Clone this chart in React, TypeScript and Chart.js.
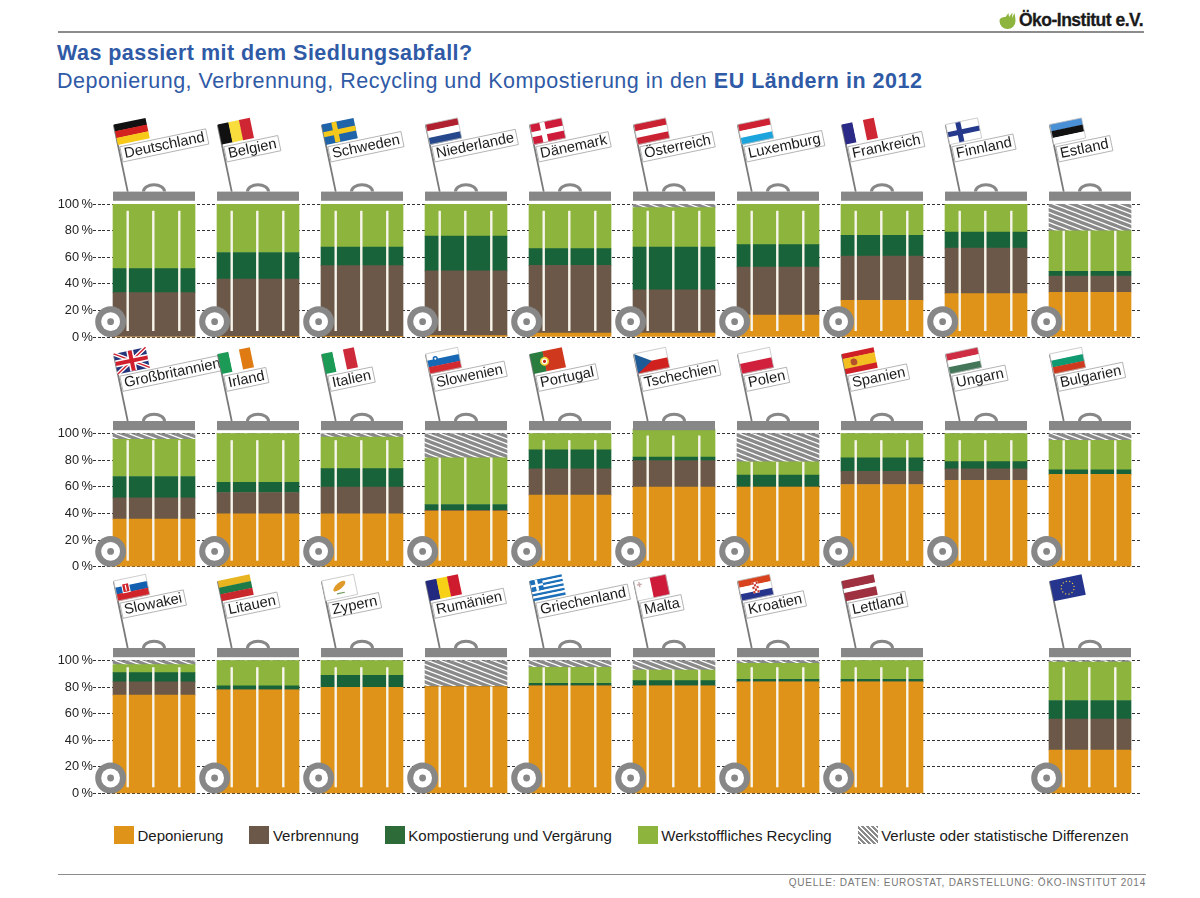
import React, { useEffect, useRef } from "react";
import { Chart, registerables } from "chart.js";

Chart.register(...registerables);

const FONT = '"Liberation Sans", Arial, sans-serif';

const labelsRow1 = ["Deutschland", "Belgien", "Schweden", "Niederlande", "Dänemark", "Österreich", "Luxemburg", "Frankreich", "Finnland", "Estland"];
const deponieRow1 = [0, 0.5, 0.5, 1, 3, 3, 16.6, 27.6, 32.7, 33.7];
const verbrennungRow1 = [33.5, 43.2, 53.3, 48.8, 51, 32.5, 36, 33.4, 34.3, 12.3];
const kompostRow1 = [18, 20, 14, 26.2, 12.6, 32.3, 17, 15.6, 12, 3.5];
const recyclingRow1 = [48.5, 36.3, 32.2, 24, 33.4, 29.7, 30.4, 23.4, 21, 30.5];
const verlusteRow1 = [0, 0, 0, 0, 0, 2.5, 0, 0, 0, 20];

const labelsRow2 = ["Großbritannien", "Irland", "Italien", "Slowenien", "Portugal", "Tschechien", "Polen", "Spanien", "Ungarn", "Bulgarien"];
const deponieRow2 = [35.8, 39.8, 39.8, 41.8, 53.8, 59.8, 59.8, 61.8, 65, 69.5];
const verbrennungRow2 = [16, 16, 20, 0.5, 19.7, 20, 0, 10, 8.5, 0];
const kompostRow2 = [16, 7.7, 14, 4.5, 14.3, 2.7, 9, 10, 5.5, 3.3];
const recyclingRow2 = [28, 36.5, 23.7, 35, 12.2, 21, 10, 18.2, 21, 22.2];
const verlusteRow2 = [4.2, 0, 2.5, 18.2, 0, 0, 21.2, 0, 0, 5];

const labelsRow3 = ["Slowakei", "Litauen", "Zypern", "Rumänien", "Griechenland", "Malta", "Kroatien", "Lettland", "", ""];
const deponieRow3 = [74, 78, 80, 80.5, 81, 81, 84, 84, null, 32.6];
const verbrennungRow3 = [10, 0, 0, 0, 0, 0, 0, 0, null, 23.4];
const kompostRow3 = [7, 3, 9, 0, 2, 4, 2, 2, null, 14];
const recyclingRow3 = [6, 19, 11, 0, 12, 8, 12, 14, null, 29];
const verlusteRow3 = [3, 0, 0, 19.5, 5, 7, 2, 0, null, 1];
const flagsRow3 = ["Slowakei", "Litauen", "Zypern", "Rumänien", "Griechenland", "Malta", "Kroatien", "Lettland", "", "EU"];

const seriesNames = ["Deponierung", "Verbrennung", "Kompostierung und Vergärung", "Werkstoffliches Recycling", "Verluste oder statistische Differenzen"];
const seriesColors = ["#DF9318", "#6B5849", "#18633A", "#8DB43D"];
const legendColors = ["#DF9318", "#6B5849", "#2D6B38", "#8DB43D"];
const yTicks = [0, 20, 40, 60, 80, 100];

const GREY = "#878787";
const BLUE = "#2F5AA6";

type Stripe = { dir: "h" | "v"; colors: string[]; weights?: number[] };
const stripeFlags: Record<string, Stripe> = {
  Deutschland: { dir: "h", colors: ["#111111", "#D3211F", "#F7C919"] },
  Belgien: { dir: "v", colors: ["#111111", "#F8DD3C", "#CE2632"] },
  Schweden: { dir: "h", colors: ["#1F64A8"] },
  Niederlande: { dir: "h", colors: ["#B0202E", "#FFFFFF", "#25488C"] },
  Dänemark: { dir: "h", colors: ["#CE1B3A"] },
  Österreich: { dir: "h", colors: ["#CB2233", "#FFFFFF", "#CB2233"] },
  Luxemburg: { dir: "h", colors: ["#CE2233", "#FFFFFF", "#1CA5DD"] },
  Frankreich: { dir: "v", colors: ["#2B2A86", "#FFFFFF", "#CE2632"] },
  Finnland: { dir: "h", colors: ["#FFFFFF"] },
  Estland: { dir: "h", colors: ["#4A90D6", "#111111", "#FFFFFF"] },
  Großbritannien: { dir: "h", colors: ["#24357C"] },
  Irland: { dir: "v", colors: ["#1C9B57", "#FFFFFF", "#E07B14"] },
  Italien: { dir: "v", colors: ["#1C9B57", "#FFFFFF", "#CE2B3A"] },
  Slowenien: { dir: "h", colors: ["#FFFFFF", "#1668B4", "#D22A2E"] },
  Portugal: { dir: "v", colors: ["#2A7D3F", "#D0381E"], weights: [2, 3] },
  Tschechien: { dir: "h", colors: ["#FFFFFF", "#D0211F"] },
  Polen: { dir: "h", colors: ["#FFFFFF", "#D0203C"] },
  Spanien: { dir: "h", colors: ["#CE2026", "#F3BE22", "#CE2026"], weights: [1, 2, 1] },
  Ungarn: { dir: "h", colors: ["#CE2D43", "#FFFFFF", "#44775A"] },
  Bulgarien: { dir: "h", colors: ["#FFFFFF", "#0F9A72", "#CE3A1E"] },
  Slowakei: { dir: "h", colors: ["#FFFFFF", "#1460B0", "#D0242A"] },
  Litauen: { dir: "h", colors: ["#E8B420", "#1E7B47", "#C9282D"] },
  Zypern: { dir: "h", colors: ["#FFFFFF"] },
  Rumänien: { dir: "v", colors: ["#23297F", "#F7D116", "#CE1B2E"] },
  Griechenland: { dir: "h", colors: ["#1C6FB8", "#FFFFFF", "#1C6FB8", "#FFFFFF", "#1C6FB8", "#FFFFFF", "#1C6FB8", "#FFFFFF", "#1C6FB8"] },
  Malta: { dir: "v", colors: ["#FFFFFF", "#CE1B3A"] },
  Kroatien: { dir: "h", colors: ["#D8431E", "#FFFFFF", "#27348B"] },
  Lettland: { dir: "h", colors: ["#9E3040", "#FFFFFF", "#9E3040"], weights: [2, 1, 2] },
  EU: { dir: "h", colors: ["#25348C"] },
};

function drawFlag(ctx: CanvasRenderingContext2D, key: string, w: number, h: number) {
  const s = stripeFlags[key];
  if (!s) return;
  const ws = s.weights ?? s.colors.map(() => 1);
  const total = ws.reduce((a, b) => a + b, 0);
  let pos = 0;
  s.colors.forEach((c, i) => {
    ctx.fillStyle = c;
    const len = ((s.dir === "h" ? h : w) * ws[i]) / total;
    if (s.dir === "h") ctx.fillRect(0, pos, w, len + 0.3);
    else ctx.fillRect(pos, 0, len + 0.3, h);
    pos += len;
  });
  const cross = (bar: string) => {
    ctx.fillStyle = bar;
    ctx.fillRect(w * 0.3, 0, h * 0.25, h);
    ctx.fillRect(0, h * 0.38, w, h * 0.25);
  };
  if (key === "Schweden") cross("#F5C91C");
  if (key === "Dänemark") cross("#FFFFFF");
  if (key === "Finnland") cross("#25398C");
  if (key === "Großbritannien") {
    ctx.strokeStyle = "#FFFFFF";
    ctx.lineWidth = 4;
    ctx.beginPath();
    ctx.moveTo(0, 0); ctx.lineTo(w, h); ctx.moveTo(w, 0); ctx.lineTo(0, h);
    ctx.stroke();
    ctx.strokeStyle = "#D0202E";
    ctx.lineWidth = 1.4;
    ctx.stroke();
    ctx.fillStyle = "#FFFFFF";
    ctx.fillRect(w / 2 - 3.5, 0, 7, h);
    ctx.fillRect(0, h / 2 - 3.5, w, 7);
    ctx.fillStyle = "#D0202E";
    ctx.fillRect(w / 2 - 2, 0, 4, h);
    ctx.fillRect(0, h / 2 - 2, w, 4);
  }
  if (key === "Tschechien") {
    ctx.fillStyle = "#1E5A96";
    ctx.beginPath();
    ctx.moveTo(0, 0); ctx.lineTo(w * 0.5, h / 2); ctx.lineTo(0, h);
    ctx.closePath();
    ctx.fill();
  }
  const dot = (x: number, y: number, r: number, c: string) => {
    ctx.fillStyle = c;
    ctx.beginPath();
    ctx.arc(x, y, r, 0, Math.PI * 2);
    ctx.fill();
  };
  if (key === "Portugal") { dot(w * 0.4, h / 2, 4.5, "#F2D33A"); dot(w * 0.4, h / 2, 2.8, "#FFFFFF"); dot(w * 0.4, h / 2, 1.6, "#C42B20"); }
  if (key === "Spanien") { dot(w * 0.32, h / 2, 3.4, "#B5512A"); }
  if (key === "Slowenien") { dot(w * 0.26, h * 0.32, 2.6, "#1668B4"); dot(w * 0.26, h * 0.32, 1.1, "#FFFFFF"); }
  if (key === "Slowakei") {
    ctx.fillStyle = "#FFFFFF";
    ctx.fillRect(w * 0.2, h * 0.2, 8, 10);
    ctx.fillStyle = "#D0242A";
    ctx.fillRect(w * 0.2 + 1, h * 0.2 + 1, 6, 8);
    ctx.fillStyle = "#FFFFFF";
    ctx.fillRect(w * 0.2 + 3.4, h * 0.2 + 2, 1.2, 6);
  }
  if (key === "Kroatien") {
    ctx.fillStyle = "#FFFFFF";
    ctx.fillRect(w * 0.4, h * 0.22, 6.5, 11);
    ctx.fillStyle = "#C8352A";
    for (let r = 0; r < 5; r++) for (let c = 0; c < 3; c++) if ((r + c) % 2 === 0) ctx.fillRect(w * 0.4 + c * 2.1, h * 0.22 + r * 2.2, 2.1, 2.2);
  }
  if (key === "Griechenland") {
    ctx.fillStyle = "#1C6FB8";
    ctx.fillRect(0, 0, w * 0.38, h * 5 / 9);
    ctx.fillStyle = "#FFFFFF";
    ctx.fillRect(w * 0.15, 0, w * 0.08, h * 5 / 9);
    ctx.fillRect(0, h * 2 / 9, w * 0.38, h / 9);
  }
  if (key === "Malta") {
    ctx.fillStyle = "#C8A8A8";
    ctx.fillRect(w * 0.07, h * 0.2, 5, 1.4);
    ctx.fillRect(w * 0.07 + 1.8, h * 0.2 - 1.8, 1.4, 5);
  }
  if (key === "Zypern") {
    ctx.fillStyle = "#DF9A2A";
    ctx.beginPath();
    ctx.ellipse(w * 0.5, h * 0.42, 7.5, 3, -0.5, 0, Math.PI * 2);
    ctx.fill();
    ctx.fillStyle = "#6F9A5A";
    ctx.fillRect(w * 0.38, h * 0.74, 8, 1.2);
  }
  if (key === "EU") {
    ctx.fillStyle = "#F2D33A";
    for (let i = 0; i < 12; i++) {
      const a = (i / 12) * Math.PI * 2;
      ctx.beginPath();
      ctx.arc(w / 2 + Math.cos(a) * 6.5, h / 2 + Math.sin(a) * 6.5, 0.65, 0, Math.PI * 2);
      ctx.fill();
    }
  }
  if (["Niederlande", "Österreich", "Finnland", "Estland", "Slowenien", "Tschechien", "Polen", "Ungarn", "Bulgarien", "Slowakei", "Zypern", "Malta", "Kroatien", "Luxemburg", "Dänemark"].includes(key)) {
    ctx.strokeStyle = "#BDBDBD";
    ctx.lineWidth = 0.7;
    ctx.strokeRect(0, 0, w, h);
  }
}

function makeHatch(): CanvasPattern | string {
  const tile = document.createElement("canvas");
  tile.width = 13;
  tile.height = 5;
  const t = tile.getContext("2d");
  if (!t) return GREY;
  t.fillStyle = "#8A8A8A";
  t.fillRect(0, 0, 13, 5);
  t.strokeStyle = "#FFFFFF";
  t.lineWidth = 1.2;
  for (const dy of [-5, 0, 5]) {
    t.beginPath();
    t.moveTo(-13, dy - 5);
    t.lineTo(26, dy + 10);
    t.stroke();
  }
  return t.createPattern(tile, "repeat") ?? GREY;
}

const binPlugin = {
  id: "binDecor",
  afterDatasetsDraw(chart: any, _args: any, opts: any) {
    const { ctx, scales } = chart;
    const xScale = scales.x;
    const yScale = scales.y;
    const y100 = yScale.getPixelForValue(100);
    const y0 = yScale.getPixelForValue(0);
    const barW = 82;
    const names: string[] = opts.labels;
    const flags: string[] = opts.flags;
    const values: (number | null)[][] = opts.series;
    names.forEach((name, i) => {
      if (!flags[i]) return;
      const cx = xScale.getPixelForValue(i);
      const left = cx - barW / 2;
      const lidTop = y100 - 12.7;
      const lidH = 9.2;
      const stackTop = values.reduce((a, s) => a + (s[i] ?? 0), 0);
      const hatchBottom = yScale.getPixelForValue(stackTop - (values[4][i] ?? 0));
      const hasHatch = (values[4][i] ?? 0) > 0;
      const startY = Math.max(yScale.getPixelForValue(stackTop) + 6.5, hasHatch ? hatchBottom : -1);
      ctx.save();
      ctx.fillStyle = "#F8F6EC";
      [14.7, 40.3, 66.3].forEach((dx) => ctx.fillRect(left + dx - 1.2, startY, 2.4, y0 - 6 - startY));
      ctx.fillStyle = GREY;
      ctx.fillRect(left, lidTop, barW, lidH);
      ctx.strokeStyle = GREY;
      ctx.lineWidth = 3;
      ctx.beginPath();
      ctx.ellipse(cx, lidTop, 10.5, 6.8, 0, Math.PI, 2 * Math.PI);
      ctx.stroke();
      const wx = left - 2.4;
      const wy = y0 - 15.3;
      ctx.fillStyle = GREY;
      ctx.beginPath();
      ctx.arc(wx, wy, 15.4, 0, Math.PI * 2);
      ctx.fill();
      ctx.fillStyle = "#FFFFFF";
      ctx.beginPath();
      ctx.arc(wx, wy, 9.4, 0, Math.PI * 2);
      ctx.fill();
      ctx.fillStyle = GREY;
      ctx.beginPath();
      ctx.arc(wx, wy, 3.4, 0, Math.PI * 2);
      ctx.fill();
      ctx.restore();
    });
    names.forEach((name, i) => {
      if (!flags[i]) return;
      const cx = xScale.getPixelForValue(i);
      const left = cx - barW / 2;
      ctx.save();
      ctx.translate(left + 14.7, y100 - 12.7);
      ctx.rotate((-11.8 * Math.PI) / 180);
      ctx.strokeStyle = "#7A7A7A";
      ctx.lineWidth = 1.8;
      ctx.beginPath();
      ctx.moveTo(0, 0);
      ctx.lineTo(0, -68);
      ctx.stroke();
      ctx.save();
      ctx.translate(0, -68.5);
      drawFlag(ctx, flags[i], 32.5, 20.5);
      ctx.restore();
      if (name) {
        ctx.font = `14.7px ${FONT}`;
        const tw = ctx.measureText(name).width;
        ctx.fillStyle = "#FFFFFF";
        ctx.strokeStyle = "#A8A8A8";
        ctx.lineWidth = 0.8;
        ctx.fillRect(1.5, -45.5, tw + 6, 15.5);
        ctx.strokeRect(1.5, -45.5, tw + 6, 15.5);
        ctx.fillStyle = "#1A1A1A";
        ctx.textBaseline = "middle";
        ctx.textAlign = "left";
        ctx.fillText(name, 4.5, -37.5);
      }
      ctx.restore();
    });
  },
};

function BinRow({ labels, flags, series, top, height, y100, y0 }: {
  labels: string[]; flags: string[]; series: (number | null)[][]; top: number; height: number; y100: number; y0: number;
}) {
  const ref = useRef<HTMLCanvasElement | null>(null);
  useEffect(() => {
    if (!ref.current) return;
    const hatch = makeHatch();
    const chart = new Chart(ref.current, {
      type: "bar",
      data: {
        labels,
        datasets: series.map((values, i) => ({
          label: seriesNames[i],
          data: values,
          backgroundColor: i < 4 ? seriesColors[i] : (hatch as any),
          borderWidth: 0,
          barThickness: 82,
          clip: false as any,
        })),
      },
      options: {
        animation: false,
        responsive: false,
        layout: { padding: { top: y100 - top, bottom: top + height - y0, left: 0, right: 58 } },
        plugins: {
          legend: { display: false },
          tooltip: { enabled: false },
          binDecor: { labels, flags, series },
        } as any,
        scales: {
          x: { type: "category", stacked: true, display: false },
          y: {
            stacked: true,
            min: 0,
            max: 100,
            afterFit: (s: any) => { s.width = 102; },
            afterBuildTicks: (s: any) => { s.ticks = yTicks.map((value) => ({ value })); },
            ticks: {
              color: "#222222",
              padding: 0,
              font: { family: FONT, size: 12.8 },
              callback: (v: any) => `${v}\u2009%`,
            },
            border: { display: false, dash: [3, 2] },
            grid: { color: "#333333", lineWidth: 1, tickLength: 9, tickColor: "#333333", tickBorderDash: [3, 2] },
          },
        },
      },
      plugins: [binPlugin],
    } as any);
    return () => chart.destroy();
  }, []);
  return <canvas ref={ref} width={1200} height={height} style={{ position: "absolute", left: 0, top, display: "block" }} />;
}

const series1 = [deponieRow1, verbrennungRow1, kompostRow1, recyclingRow1, verlusteRow1];
const series2 = [deponieRow2, verbrennungRow2, kompostRow2, recyclingRow2, verlusteRow2];
const series3 = [deponieRow3, verbrennungRow3, kompostRow3, recyclingRow3, verlusteRow3];

export default function App() {
  const abs = (left: number, t: number): React.CSSProperties => ({ position: "absolute", left, top: t, whiteSpace: "nowrap" });
  return (
    <div style={{ position: "relative", width: 1200, height: 898, overflow: "hidden", fontFamily: FONT, background: "#fff" }}>
      <style>{"body{margin:0}"}</style>
      <div style={{ position: "absolute", left: 58, top: 31, width: 1086, height: 1.5, background: "#8C8C8C" }} />
      <svg width="20" height="20" viewBox="0 0 20 20" style={{ position: "absolute", left: 998, top: 10 }}>
        <path d="M1.5 11 A8 8 0 0 0 17.5 11 C17.5 9 17.3 7 16.5 3 L14 8 L14.5 2.5 L11 7 L10.5 3 L7.5 7 C4.5 7 1.5 8 1.5 11 Z" fill="#8DB43D" />
      </svg>
      <div style={{ position: "absolute", right: 57, top: 10, fontSize: 17.5, fontWeight: 700, letterSpacing: -0.5, color: "#1a1a1a", whiteSpace: "nowrap", WebkitTextStroke: "0.3px #1a1a1a" }}>Öko-Institut e.V.</div>
      <div style={{ ...abs(57, 41), fontSize: 21.5, fontWeight: 700, color: BLUE, letterSpacing: 0.47 }}>Was passiert mit dem Siedlungsabfall?</div>
      <div style={{ ...abs(57, 69), fontSize: 21.5, color: BLUE, letterSpacing: 0.5 }}>
        Deponierung, Verbrennung, Recycling und Kompostierung in den <b>EU Ländern in 2012</b>
      </div>

      <BinRow labels={labelsRow1} flags={labelsRow1} series={series1} top={104} height={248} y100={204.3} y0={337} />
      <BinRow labels={labelsRow2} flags={labelsRow2} series={series2} top={344} height={238} y100={433.7} y0={566.7} />
      <BinRow labels={labelsRow3} flags={flagsRow3} series={series3} top={566} height={244} y100={660.7} y0={793.3} />

      <div style={{ position: "absolute", left: 114, top: 826, display: "flex", alignItems: "center", fontSize: 15, color: "#1A1A1A", whiteSpace: "nowrap" }}>
        {seriesNames.map((name, i) => (
          <div key={name} style={{ display: "flex", alignItems: "center", marginRight: 26 }}>
            <span style={{
              display: "inline-block", width: 20, height: 18, marginRight: 3.5,
              background: i < 4 ? legendColors[i] : "repeating-linear-gradient(45deg, #8A8A8A 0 2.4px, #FFFFFF 2.4px 3.6px)",
            }} />
            <span>{name}</span>
          </div>
        ))}
      </div>

      <div style={{ position: "absolute", left: 58, top: 874, width: 1088, height: 1.2, background: "#8C8C8C" }} />
      <div style={{ position: "absolute", right: 54, top: 877, fontSize: 10, letterSpacing: 0.75, color: "#777", whiteSpace: "nowrap" }}>
        QUELLE: DATEN: EUROSTAT, DARSTELLUNG: ÖKO-INSTITUT 2014
      </div>
    </div>
  );
}
